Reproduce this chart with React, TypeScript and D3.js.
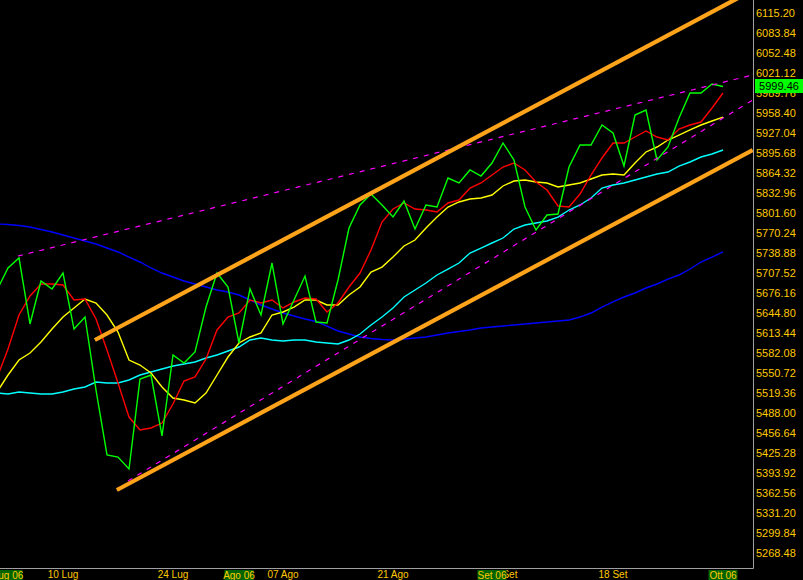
import React from 'react';
import * as d3 from 'd3';

const W = 803;
const H = 580;
const plotRight = 753;
const plotBottom = 568;

// first data point is one trading day before 03 Jul 2006 (index 0)
const firstIndex = -1;

const closeValues = [
  5680.4, 5714.9, 5730.6, 5627.1, 5694.5, 5682.0, 5707.0, 5619.2, 5638.1, 5523.6,
  5421.7, 5418.5, 5399.7, 5540.8, 5547.1, 5451.5, 5578.5, 5565.9, 5583.2, 5653.7,
  5707.0, 5685.1, 5597.3, 5682.0, 5641.2, 5722.7, 5627.1, 5664.7, 5702.3, 5630.2,
  5628.6, 5696.1, 5777.6, 5813.7, 5830.9, 5813.7, 5794.9, 5819.9, 5776.0, 5813.7,
  5810.5, 5856.0, 5848.2, 5868.6, 5859.1, 5879.5, 5910.9, 5884.2, 5810.5, 5774.5,
  5798.0, 5799.6, 5873.3, 5907.8, 5907.8, 5939.1, 5926.6, 5874.8, 5954.8, 5962.6,
  5884.2, 5904.6, 5950.1, 5989.3, 5989.3, 6003.4, 5999.46,
];

const redMA = [
  5542.4, 5587.9, 5641.2, 5671.0, 5689.8, 5689.8, 5688.2, 5664.7, 5666.3, 5634.9,
  5586.3, 5534.6, 5481.2, 5460.9, 5464.0, 5471.8, 5501.6, 5537.7, 5544.0, 5572.2,
  5617.7, 5638.0, 5644.3, 5664.7, 5660.0, 5664.7, 5652.2, 5661.6, 5667.8, 5666.3,
  5645.9, 5660.0, 5685.1, 5707.0, 5743.1, 5787.0, 5807.4, 5816.8, 5807.4, 5805.8,
  5802.7, 5816.8, 5821.5, 5840.3, 5848.2, 5860.7, 5873.2, 5879.5, 5868.5, 5849.7,
  5837.2, 5812.1, 5810.5, 5830.9, 5860.7, 5887.4, 5910.9, 5910.9, 5920.3, 5929.7,
  5920.3, 5915.6, 5932.8, 5939.1, 5943.8, 5965.8, 5989.3,
];

const yellowMA = [
  5520.4, 5547.1, 5570.6, 5581.6, 5598.8, 5619.2, 5638.0, 5652.2, 5666.3, 5660.0,
  5641.2, 5614.5, 5570.6, 5562.8, 5550.2, 5528.3, 5511.0, 5507.9, 5503.2, 5518.9,
  5547.1, 5575.3, 5597.3, 5606.7, 5613.0, 5641.2, 5645.9, 5653.7, 5664.7, 5664.7,
  5656.9, 5656.9, 5672.5, 5685.1, 5708.6, 5716.4, 5732.1, 5749.4, 5758.8, 5777.6,
  5794.8, 5810.5, 5818.4, 5823.1, 5824.6, 5829.3, 5843.5, 5851.3, 5852.9, 5849.7,
  5848.2, 5841.9, 5845.0, 5848.2, 5854.4, 5860.7, 5862.3, 5860.7, 5879.5, 5896.8,
  5904.6, 5915.6, 5923.4, 5931.3, 5939.1, 5945.4, 5951.6,
];

const cyanMA = [
  5518.9, 5517.3, 5520.4, 5518.9, 5517.3, 5517.3, 5520.4, 5525.1, 5528.3, 5536.1,
  5534.6, 5534.6, 5539.3, 5547.1, 5551.8, 5556.5, 5561.2, 5564.3, 5567.5, 5573.8,
  5578.5, 5584.7, 5591.0, 5602.0, 5605.1, 5602.0, 5600.4, 5602.0, 5602.0, 5598.8,
  5597.3, 5595.7, 5602.0, 5611.4, 5625.5, 5638.0, 5652.2, 5669.4, 5680.4, 5691.4,
  5703.9, 5713.3, 5722.7, 5738.4, 5746.2, 5754.1, 5761.9, 5776.0, 5782.3, 5785.4,
  5788.6, 5794.8, 5805.8, 5813.7, 5824.6, 5840.3, 5845.0, 5848.2, 5852.9, 5857.6,
  5862.3, 5865.4, 5874.8, 5881.1, 5888.9, 5893.6, 5899.9,
];

const blueMA = [
  5783.9, 5783.1, 5781.5, 5779.2, 5775.2, 5771.3, 5766.6, 5761.9, 5757.2, 5752.5,
  5746.2, 5740.0, 5732.1, 5724.3, 5714.9, 5707.0, 5700.8, 5694.5, 5689.8, 5685.1,
  5680.4, 5677.2, 5672.5, 5664.7, 5656.9, 5650.6, 5644.3, 5639.6, 5634.9, 5631.0,
  5623.9, 5616.1, 5611.4, 5606.7, 5604.3, 5602.8, 5602.0, 5603.5, 5605.1, 5606.7,
  5609.8, 5613.0, 5615.3, 5617.7, 5620.8, 5622.4, 5623.9, 5625.5, 5627.1, 5628.6,
  5630.2, 5631.8, 5633.3, 5638.0, 5644.3, 5653.7, 5661.6, 5669.4, 5675.7, 5683.5,
  5689.8, 5697.6, 5703.9, 5713.3, 5724.3, 5732.1, 5740.0,
];

const channelUpper = [{ i: 7.9, v: 5602.0 }, { i: 67.7, v: 6150.4 }];
const channelLower = [{ i: 9.9, v: 5366.8 }, { i: 67.7, v: 5899.9 }];
const dashUpper = [{ i: 0.9, v: 5733.7 }, { i: 67.7, v: 6017.5 }];
const dashLower = [{ i: 10.9, v: 5380.9 }, { i: 67.7, v: 5978.3 }];

const yTickLabels = [
  '6115.20', '6083.84', '6052.48', '6021.12', '5989.76', '5958.40', '5927.04',
  '5895.68', '5864.32', '5832.96', '5801.60', '5770.24', '5738.88', '5707.52',
  '5676.16', '5644.80', '5613.44', '5582.08', '5550.72', '5519.36', '5488.00',
  '5456.64', '5425.28', '5393.92', '5362.56', '5331.20', '5299.84', '5268.48',
];

const dateTickIndex = [5, 15, 25, 35, 45, 55, 65];
const dateTickLabels = ['10 Lug', '24 Lug', '07 Ago', '21 Ago', '04 Set', '18 Set', '02 Ott'];
const monthIndex = [0, 21, 44, 65];
const monthLabels = ['Lug 06', 'Ago 06', 'Set 06', 'Ott 06'];

const lastValue = 5999.46;

export default function App() {
  const x = d3.scaleLinear().domain([0, 65]).range([8, 723]);
  const y = d3.scaleLinear().domain([5268.48, 6115.2]).range([552.7, 12.7]);

  const line = d3
    .line<number>()
    .x((_, k) => x(k + firstIndex))
    .y((d) => y(d));
  const seg = d3
    .line<{ i: number; v: number }>()
    .x((d) => x(d.i))
    .y((d) => y(d.v));

  const font = '"Liberation Sans", Arial, sans-serif';
  const tickColor = '#ffc800';

  return (
    <svg
      width={W}
      height={H}
      style={{ position: 'absolute', left: 0, top: 0, background: '#000', display: 'block' }}
    >
      <rect x={0} y={0} width={W} height={H} fill="#000" />
      <defs>
        <clipPath id="plot">
          <rect x={0} y={0} width={plotRight} height={plotBottom} />
        </clipPath>
      </defs>
      <g clipPath="url(#plot)" fill="none">
        <path d={line(blueMA) || ''} stroke="#0000ff" strokeWidth={1.4} />
        <path d={line(cyanMA) || ''} stroke="#00ffff" strokeWidth={1.4} />
        <path d={line(yellowMA) || ''} stroke="#ffff00" strokeWidth={1.4} />
        <path d={line(redMA) || ''} stroke="#ff0000" strokeWidth={1.4} />
        <path d={line(closeValues) || ''} stroke="#00ff00" strokeWidth={1.4} />
        <path d={seg(dashUpper) || ''} stroke="#ff00ff" strokeWidth={1.2} strokeDasharray="5,6" />
        <path d={seg(dashLower) || ''} stroke="#ff00ff" strokeWidth={1.2} strokeDasharray="5,6" />
        <path d={seg(channelUpper) || ''} stroke="#ffa31a" strokeWidth={4.2} />
        <path d={seg(channelLower) || ''} stroke="#ffa31a" strokeWidth={4.2} />
      </g>
      {/* frame */}
      <line x1={0} y1={plotBottom + 0.5} x2={plotRight + 0.5} y2={plotBottom + 0.5} stroke="#a0a0a0" strokeWidth={1} />
      <line x1={plotRight + 0.5} y1={0} x2={plotRight + 0.5} y2={plotBottom + 0.5} stroke="#a0a0a0" strokeWidth={1} />
      {/* y labels */}
      {yTickLabels.map((t) => (
        <text
          key={t}
          x={756}
          y={y(+t)}
          dy="0.36em"
          fontSize={11}
          fontFamily={font}
          fill={tickColor}
        >
          {t}
        </text>
      ))}
      {/* last value */}
      <rect x={755} y={y(lastValue) - 7.5} width={48} height={14} fill="#00ff00" />
      <text
        x={779}
        y={y(lastValue)}
        dy="0.36em"
        textAnchor="middle"
        fontSize={11}
        fontFamily={font}
        fill="#000"
      >
        {lastValue.toFixed(2)}
      </text>
      {/* x labels */}
      {dateTickIndex.map((d, k) => (
        <text
          key={dateTickLabels[k]}
          x={x(d)}
          y={578}
          textAnchor="middle"
          fontSize={10}
          fontFamily={font}
          fill={tickColor}
        >
          {dateTickLabels[k]}
        </text>
      ))}
      {monthIndex.map((d, k) => (
        <g key={monthLabels[k]}>
          <rect x={x(d) - 14.5} y={570} width={29} height={10} fill="#006400" />
          <text
            x={x(d)}
            y={578.5}
            textAnchor="middle"
            fontSize={10}
            fontFamily={font}
            fill={tickColor}
          >
            {monthLabels[k]}
          </text>
        </g>
      ))}
    </svg>
  );
}
